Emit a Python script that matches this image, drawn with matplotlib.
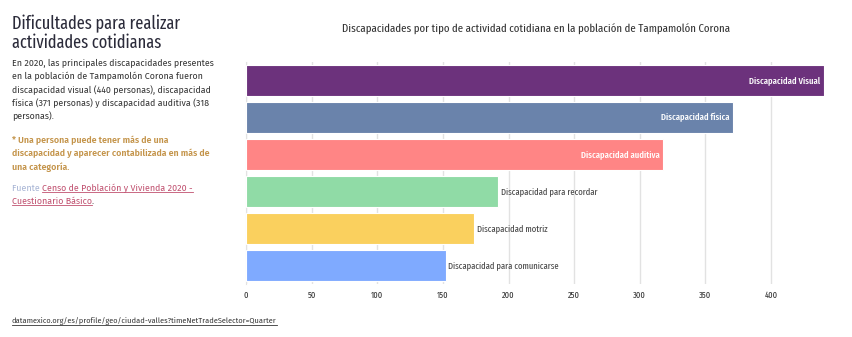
import matplotlib
matplotlib.use("Agg")
import matplotlib.pyplot as plt

# Data
categories = [
    "Discapacidad Visual",
    "Discapacidad física",
    "Discapacidad auditiva",
    "Discapacidad para recordar",
    "Discapacidad motriz",
    "Discapacidad para comunicarse",
]
personas = [440, 371, 318, 192, 174, 152]
bar_colors = ["#6C327C", "#6A83AB", "#FF8585", "#90DBA6", "#FAD05E", "#7FAAFF"]
x_ticks = [0, 50, 100, 150, 200, 250, 300, 350, 400]

title_lines = ["Dificultades para realizar", "actividades cotidianas"]
chart_title = "Discapacidades por tipo de actividad cotidiana en la población de Tampamolón Corona"
para_lines = [
    "En 2020, las principales discapacidades presentes",
    "en la población de Tampamolón Corona fueron",
    "discapacidad visual (440 personas), discapacidad",
    "física (371 personas) y discapacidad auditiva (318",
    "personas).",
]
note_lines = [
    "* Una persona puede tener más de una",
    "discapacidad y aparecer contabilizada en más de",
    "una categoría.",
]
source_label = "Fuente "
source_lines = ["Censo de Población y Vivienda 2020 -", "Cuestionario Básico"]
url_text = "datamexico.org/es/profile/geo/ciudad-valles?timeNetTradeSelector=Quarter"

narrow = ["Fira Sans Extra Condensed", "Fira Sans Condensed", "DejaVu Sans"]
body = ["Fira Sans", "DejaVu Sans"]

W, H = 853, 337
fig = plt.figure(figsize=(W / 100, H / 100), dpi=100)
fig.patch.set_facecolor("white")
renderer = fig.canvas.get_renderer()


def size_for_width(s, width_px, family, weight="normal"):
    """Font size (pt) at which string s is width_px pixels wide."""
    probe = fig.text(0, 0, s, fontsize=10, family=family, fontweight=weight)
    w = probe.get_window_extent(renderer).width
    probe.remove()
    return 10 * width_px / w


def put(x_px, base_px, s, **kw):
    """Place text with its baseline at a pixel position (origin top-left)."""
    return fig.text(x_px / W, 1 - base_px / H, s, ha=kw.pop("ha", "left"),
                    va="baseline", **kw)


def underline(t, base_px, color):
    e = t.get_window_extent(renderer)
    yy = 1 - (base_px + 1.6) / H
    fig.add_artist(plt.Line2D([e.x0 / W, e.x1 / W], [yy, yy], color=color,
                              linewidth=0.6, transform=fig.transFigure))


# Bar chart area (pixel geometry converted to figure fractions)
left, right, top, bottom = 246, 823.5, 62, 284
ax = fig.add_axes([left / W, 1 - bottom / H, (right - left) / W, (bottom - top) / H])

y = list(range(len(categories)))
ax.barh(y, personas, height=0.83, color=bar_colors, edgecolor="white",
        linewidth=0.8, zorder=3)
ax.set_ylim(len(categories) - 0.5, -0.5)
ax.set_xlim(0, 440)
ax.set_xticks(x_ticks)
ax.set_xticklabels([str(t) for t in x_ticks], fontsize=6.6, color="#333333",
                   family=narrow)
ax.set_yticks([])
ax.tick_params(axis="x", length=0, pad=5)
ax.grid(axis="x", color="#e2e2e2", linewidth=1, zorder=0)
for s in ["top", "right", "bottom"]:
    ax.spines[s].set_visible(False)
ax.spines["left"].set_color("#e2e2e2")

label_size = size_for_width("Discapacidad para recordar", 97, narrow)
for i, (cat, val) in enumerate(zip(categories, personas)):
    if val > 250:
        ax.text(val - 2.5, i, cat, ha="right", va="center", color="white",
                fontsize=label_size, family=narrow, fontweight="medium", zorder=4)
    else:
        ax.text(val + 2, i, cat, ha="left", va="center", color="#444444",
                fontsize=label_size, family=narrow, zorder=4)

put(342.5, 33, chart_title, fontsize=size_for_width(chart_title, 388, narrow),
    family=narrow, color="#333333")

# Left panel text
title_size = size_for_width(title_lines[0], 169, narrow)
for line, base in zip(title_lines, [29, 48]):
    put(12, base, line, fontsize=title_size, family=narrow, color="#2b2b3a")

body_size = size_for_width(para_lines[0], 200, body)
for line, base in zip(para_lines, [65.7, 79.2, 92.6, 106, 119.4]):
    put(12, base, line, fontsize=body_size, family=body, color="#333333")

for line, base in zip(note_lines, [142.7, 156.3, 169.6]):
    put(12, base, line, fontsize=body_size, family=body, color="#C4944A",
        fontweight="semibold")

link_color = "#C0506F"
t_src = put(12, 190.7, source_label, fontsize=body_size, family=body, color="#A7B4D4")
x_link = t_src.get_window_extent(renderer).x1
link1 = put(x_link, 190.7, source_lines[0], fontsize=body_size, family=body,
            color=link_color)
link2 = put(12, 203.5, source_lines[1], fontsize=body_size, family=body,
            color=link_color)
underline(link1, 190.7, link_color)
underline(link2, 203.5, link_color)
put(link2.get_window_extent(renderer).x1, 203.5, ".", fontsize=body_size,
    family=body, color="#333333")

url = put(12, 323, url_text, fontsize=size_for_width(url_text, 262, body),
          family=body, color="#333333")
underline(url, 323, "#333333")

fig.savefig("out.png", dpi=100)
